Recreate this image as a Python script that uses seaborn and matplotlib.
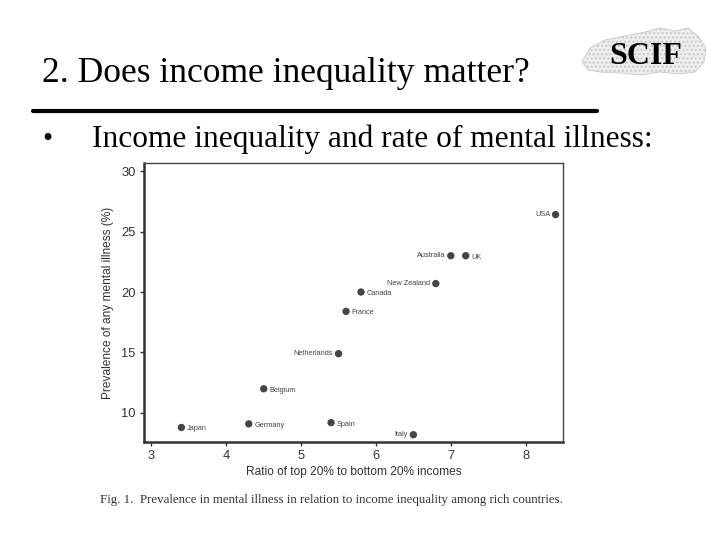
import matplotlib
matplotlib.use("Agg")
import matplotlib.pyplot as plt
import seaborn as sns
import pandas as pd
from matplotlib.patches import Polygon

# ---- data ----
countries = ["Japan", "Germany", "Belgium", "Netherlands", "Spain", "Italy",
             "France", "Canada", "New Zealand", "Australia", "UK", "USA"]
income_ratio = [3.4, 4.3, 4.5, 5.5, 5.4, 6.5, 5.6, 5.8, 6.8, 7.0, 7.2, 8.4]
mental_illness = [8.8, 9.1, 12.0, 14.9, 9.2, 8.2, 18.4, 20.0, 20.7, 23.0, 23.0, 26.4]
left_labeled = {"USA", "Australia", "New Zealand", "Netherlands", "Italy"}
x_ticks = [3, 4, 5, 6, 7, 8]
y_ticks = [10, 15, 20, 25, 30]

title_text = "2. Does income inequality matter?"
bullet_text = "Income inequality and rate of mental illness:"
caption_text = "Fig. 1.  Prevalence in mental illness in relation to income inequality among rich countries."
xlabel_text = "Ratio of top 20% to bottom 20% incomes"
ylabel_text = "Prevalence of any mental illness (%)"

df = pd.DataFrame({"country": countries, "ratio": income_ratio, "prev": mental_illness})

sns.set_theme(style="white")
plt.rcParams["font.family"] = ["Liberation Sans", "DejaVu Sans"]

fig = plt.figure(figsize=(7.2, 5.4), dpi=100)
fig.patch.set_facecolor("white")
ax = fig.add_axes([0.2, 0.1815, 0.582, 0.5165])

sns.scatterplot(data=df, x="ratio", y="prev", ax=ax, color="#454545",
                s=28, edgecolor="none", legend=False)

for c, xv, yv in zip(countries, income_ratio, mental_illness):
    if c in left_labeled:
        ax.annotate(c, (xv, yv), xytext=(-4, 0), textcoords="offset points",
                    ha="right", va="center", fontsize=5.3, color="#444444")
    else:
        ax.annotate(c, (xv, yv), xytext=(4, -1), textcoords="offset points",
                    ha="left", va="center", fontsize=5.3, color="#444444")

ax.set_xlim(2.9, 8.5)
ax.set_ylim(7.6, 30.66)
ax.set_xticks(x_ticks)
ax.set_yticks(y_ticks)
ax.tick_params(axis="both", which="both", direction="out", length=3, width=1,
               labelsize=9.3, colors="#333333", left=True, bottom=True, pad=3)
ax.set_xlabel(xlabel_text, fontsize=8.6, color="#333333", labelpad=3)
ax.set_ylabel(ylabel_text, fontsize=8.6, color="#333333", labelpad=5)
for side in ["left", "bottom"]:
    ax.spines[side].set_linewidth(1.8)
    ax.spines[side].set_color("#333333")
for side in ["top", "right"]:
    ax.spines[side].set_linewidth(1.0)
    ax.spines[side].set_color("#444444")

serif = ["Liberation Serif", "DejaVu Serif"]
fig.text(42 / 720, 1 - 82 / 540, title_text, fontsize=25.6, family=serif,
         color="black", ha="left", va="baseline")
fig.add_artist(plt.Line2D([33 / 720, 597 / 720], [1 - 111 / 540, 1 - 111 / 540],
                          color="black", linewidth=3, transform=fig.transFigure))
fig.text(42 / 720, 1 - 147 / 540, "\u2022", fontsize=21, family=serif,
         color="black", ha="left", va="baseline")
fig.text(92 / 720, 1 - 147 / 540, bullet_text, fontsize=22.6, family=serif,
         color="black", ha="left", va="baseline")

# SCIF logo (decorative)
logo_pts = [(582, 62), (590, 48), (605, 40), (625, 36), (645, 32), (660, 28),
            (675, 31), (688, 28), (698, 36), (706, 48), (704, 62), (695, 72),
            (680, 74), (660, 72), (640, 75), (620, 73), (600, 72), (588, 70)]
logo = Polygon([(px / 720, 1 - py / 540) for px, py in logo_pts], closed=True,
               facecolor="#eeeeee", edgecolor="#c8c8c8", linewidth=0.6,
               hatch="....", transform=fig.transFigure)
fig.add_artist(logo)
fig.text(646 / 720, 1 - 56 / 540, "SCIF", fontsize=23, family=serif,
         fontweight="bold", color="black", ha="center", va="center")

fig.text(100 / 720, 1 - 500 / 540, caption_text, fontsize=9.3, family=serif,
         color="#333333", ha="left", va="center")

fig.savefig("out.png", dpi=100, facecolor="white")
